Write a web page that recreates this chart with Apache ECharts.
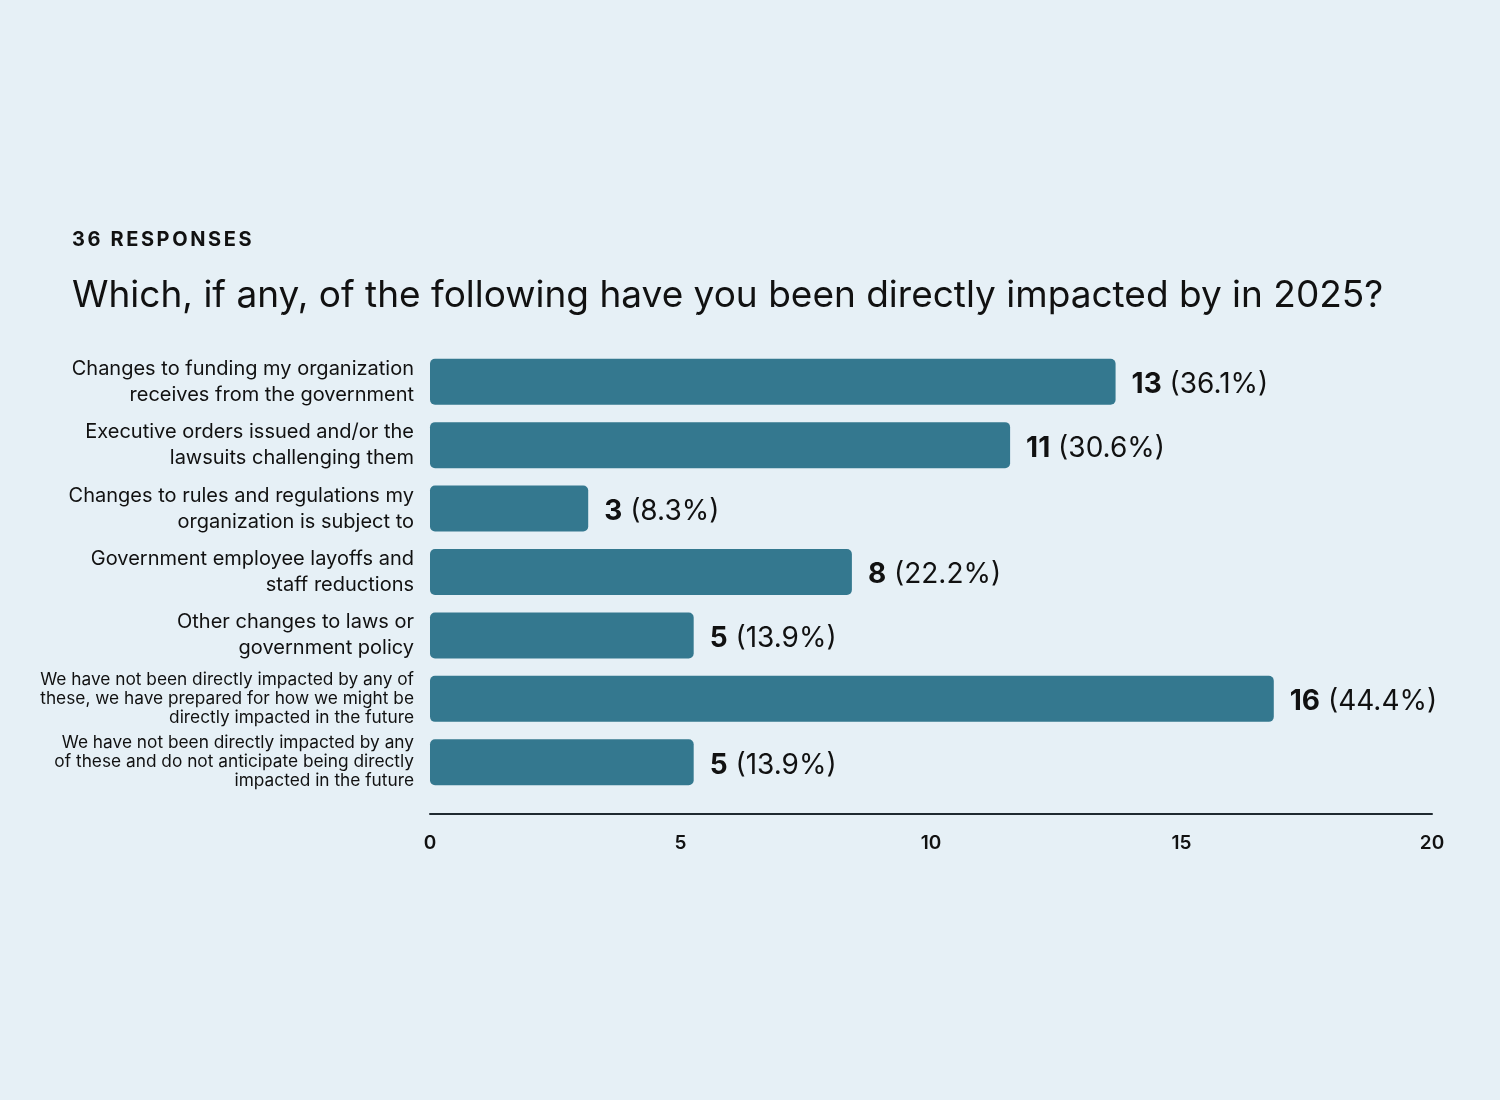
<!DOCTYPE html>
<html>
<head>
<meta charset="utf-8">
<script src="https://cdn.jsdelivr.net/npm/echarts@6/dist/echarts.min.js"></script>
<style>
    html, body { margin: 0; padding: 0; background: #e6f0f6; }
    #chart { width: 1500px; height: 1100px; }
</style>
</head>
<body>
<div id="chart"></div>
<script>
var categories = [
    "Changes to funding my organization\nreceives from the government",
    "Executive orders issued and/or the\nlawsuits challenging them",
    "Changes to rules and regulations my\norganization is subject to",
    "Government employee layoffs and\nstaff reductions",
    "Other changes to laws or\ngovernment policy",
    "We have not been directly impacted by any of\nthese, we have prepared for how we might be\ndirectly impacted in the future",
    "We have not been directly impacted by any\nof these and do not anticipate being directly\nimpacted in the future"
];
var counts = [13, 11, 3, 8, 5, 16, 5];
var percents = ["36.1%", "30.6%", "8.3%", "22.2%", "13.9%", "44.4%", "13.9%"];
var xTicks = [0, 5, 10, 15, 20];

var fontFamily = "Inter, 'Helvetica Neue', Arial, sans-serif";
var c = echarts.init(document.getElementById("chart"));

// letter-spaced caption: one rich piece per character
function spaced(str) {
    return str.split("").map(function (ch) {
        return "{k|" + ch + "}";
    }).join("");
}

var option = {
    backgroundColor: "#e6f0f6",
    textStyle: {
        fontFamily: fontFamily
    },
    title: [{
        text: spaced("36 RESPONSES"),
        left: 72,
        top: 230,
        padding: 0,
        textStyle: {
            fontSize: 20,
            fontWeight: "bold",
            color: "#111",
            fontFamily: fontFamily,
            rich: {
                k: { fontSize: 20, fontWeight: "bold", color: "#111", fontFamily: fontFamily, padding: [0, 2.6, 0, 0] }
            }
        }
    }, {
        text: "Which, if any, of the following have you been directly impacted by in 2025?",
        left: 72,
        top: 277,
        padding: 0,
        textStyle: {
            fontSize: 37,
            fontWeight: "normal",
            color: "#111",
            fontFamily: fontFamily
        }
    }],
    grid: {
        left: 430,
        right: 68,
        top: 350,
        bottom: 306
    },
    xAxis: [{
        type: "value",
        min: xTicks[0],
        max: xTicks[xTicks.length - 1],
        interval: 5,
        offset: 20,
        axisLine: {
            show: true,
            lineStyle: { color: "#1f2a30", width: 2 }
        },
        axisTick: { show: false },
        splitLine: { show: false },
        axisLabel: {
            margin: 20,
            fontSize: 19,
            fontWeight: 600,
            color: "#111",
            fontFamily: fontFamily
        }
    }, {
        // bars in the source run on a slightly shorter scale than the tick labels
        type: "value",
        min: 0,
        max: 19,
        show: false
    }],
    yAxis: {
        type: "category",
        inverse: true,
        data: categories,
        axisLine: { show: false },
        axisTick: { show: false },
        axisLabel: {
            margin: 16,
            color: "#111",
            align: "right",
            formatter: function (v, i) {
                if (v.split("\n").length > 2) {
                    return "{s|" + v + "}";
                }
                return "{m|" + v + "}";
            },
            rich: {
                m: { fontSize: 20, lineHeight: 26, color: "#111", align: "right", fontFamily: fontFamily },
                s: { fontSize: 17.3, lineHeight: 19, color: "#111", align: "right", fontFamily: fontFamily }
            }
        }
    },
    series: [{
        type: "bar",
        xAxisIndex: 1,
        data: counts,
        barWidth: 46,
        itemStyle: {
            color: "#34788f",
            borderRadius: 5
        },
        label: {
            show: true,
            position: "right",
            distance: 16,
            offset: [0, 3],
            formatter: function (p) {
                return "{b|" + p.value + "}{r| (" + percents[p.dataIndex] + ")}";
            },
            rich: {
                b: { fontSize: 28, fontWeight: "bold", color: "#111", fontFamily: fontFamily },
                r: { fontSize: 28, color: "#111", fontFamily: fontFamily }
            }
        }
    }],
    animation: false
};

c.setOption(option);
</script>
</body>
</html>
